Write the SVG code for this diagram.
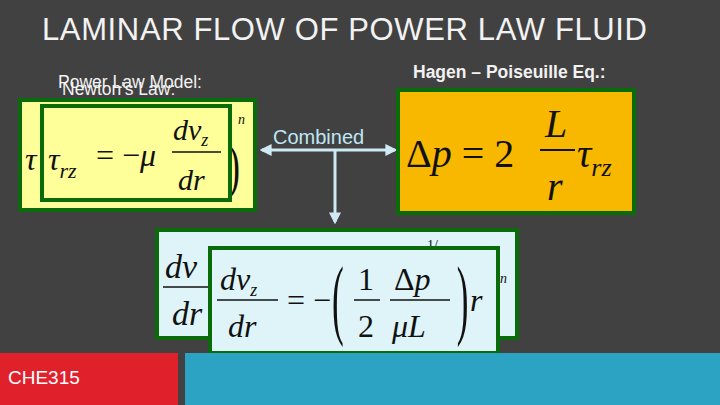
<svg xmlns="http://www.w3.org/2000/svg" width="720" height="405" viewBox="0 0 720 405">
<style>
.lbl{font-family:"Liberation Sans",Arial,sans-serif;fill:#f2f2f2;font-size:17.5px}
.eq{font-family:"Liberation Serif","Times New Roman",serif;fill:#111}
.it{font-style:italic}
.box{stroke:#0a6b0a;stroke-width:4}
</style>
<defs>
<marker id="ah" viewBox="0 0 10 10" refX="8" refY="5" markerWidth="4" markerHeight="4" orient="auto-start-reverse"><path d="M0,0L10,5L0,10z" fill="#cfe9f5"/></marker>
</defs>
<rect width="720" height="405" fill="#414141"/>
<text x="42" y="40" font-family="Liberation Sans,Arial,sans-serif" font-size="31" fill="#f2f2f2" textLength="605">LAMINAR FLOW OF POWER LAW FLUID</text>
<g id="labels">
<text class="lbl" x="58" y="88">Power Law Model:</text>
<text class="lbl" x="62" y="95">Newton's Law:</text>
<text class="lbl" x="413" y="78" font-weight="bold" font-size="16">Hagen – Poiseuille Eq.:</text>
</g>
<g id="connectors">
<line x1="262" y1="150" x2="395" y2="150" stroke="#cfe9f5" stroke-width="3" marker-start="url(#ah)" marker-end="url(#ah)"/>
<line x1="335" y1="150" x2="335" y2="222" stroke="#cfe9f5" stroke-width="3" marker-end="url(#ah)"/>
<text x="273" y="144" font-family="Liberation Sans,Arial,sans-serif" font-size="20" fill="#bfe6f5">Combined</text>
</g>
<g id="powerlaw">
<rect class="box" x="20" y="100" width="235" height="110" fill="#ffff99"/>
<text class="eq it" x="25" y="170" font-size="32">τ</text>
<text class="eq" x="228" y="186" font-size="60" transform="scale(0.6 1) translate(152 0)">)</text>
<text class="eq it" x="238" y="124" font-size="14">n</text>
</g>
<g id="newton">
<rect class="box" x="42" y="106" width="188" height="94" fill="#ffff99"/>
<text class="eq it" x="48" y="170" font-size="32">τ<tspan font-size="22" dy="8">rz</tspan></text>
<text class="eq" x="96" y="166" font-size="32">= −<tspan class="it">μ</tspan></text>
<text class="eq it" x="173" y="140" font-size="30">dv<tspan font-size="18" dy="6">z</tspan></text>
<line x1="172" y1="152" x2="221" y2="152" stroke="#111" stroke-width="1.5"/>
<text class="eq it" x="178" y="190" font-size="30">dr</text>
</g>
<g id="hagen">
<rect class="box" x="398" y="90" width="236" height="123" fill="#f8b800"/>
<text class="eq" x="406" y="167" font-size="40">Δ<tspan class="it">p</tspan> = 2</text>
<text class="eq it" x="545" y="137" font-size="40">L</text>
<line x1="540" y1="150" x2="575" y2="150" stroke="#111" stroke-width="2"/>
<text class="eq it" x="547" y="200" font-size="40">r</text>
<text class="eq it" x="577" y="167" font-size="40">τ<tspan font-size="26" dy="9">rz</tspan></text>
</g>
<g id="combined">
<rect class="box" x="157" y="230" width="360" height="108" fill="#dff4f8"/>
<text class="eq it" x="165" y="278" font-size="34">dv</text>
<line x1="163" y1="287" x2="212" y2="287" stroke="#111" stroke-width="1.5"/>
<text class="eq it" x="172" y="325" font-size="34">dr</text>
<text class="eq" x="427" y="250" font-size="14">1/</text>
<text class="eq it" x="500" y="283" font-size="14">n</text>
</g>
<g id="result">
<rect class="box" x="210" y="248" width="288" height="105" fill="#dff4f8"/>
<text class="eq it" x="220" y="290" font-size="32">dv<tspan font-size="18" dy="6">z</tspan></text>
<line x1="217" y1="300" x2="278" y2="300" stroke="#111" stroke-width="1.5"/>
<text class="eq it" x="228" y="337" font-size="32">dr</text>
<text class="eq" x="287" y="311" font-size="32">= −</text>
<text class="eq" x="332" y="328" font-size="88" transform="scale(0.4 1) translate(498 0)">(</text>
<text class="eq" x="358" y="290" font-size="32">1</text>
<line x1="354" y1="300" x2="380" y2="300" stroke="#111" stroke-width="1.5"/>
<text class="eq" x="358" y="337" font-size="32">2</text>
<text class="eq" x="394" y="290" font-size="32">Δ<tspan class="it">p</tspan></text>
<line x1="390" y1="300" x2="450" y2="300" stroke="#111" stroke-width="1.5"/>
<text class="eq it" x="392" y="337" font-size="32">μL</text>
<text class="eq" x="452" y="328" font-size="88" transform="scale(0.4 1) translate(690 0)">)</text>
<text class="eq it" x="470" y="311" font-size="32">r</text>
</g>
<g id="footer">
<rect x="0" y="353" width="178" height="52" fill="#e0202a"/>
<text x="8" y="384" font-family="Liberation Sans,Arial,sans-serif" font-size="19" fill="#fff">CHE315</text>
<rect x="185" y="353" width="535" height="52" fill="#2da3c4"/>
</g>
</svg>
